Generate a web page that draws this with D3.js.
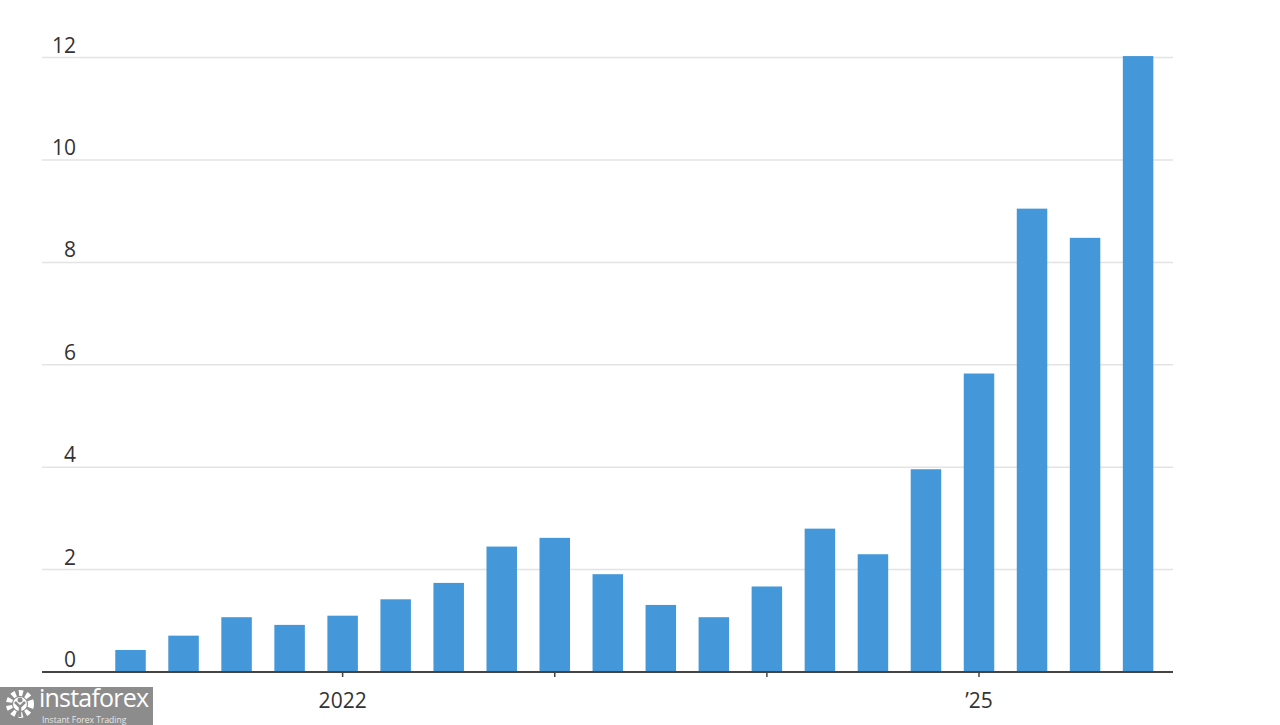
<html>
<head>
    <meta charset="utf-8">
    <title>Bar chart</title>
    <style>
        body { margin: 0; background: #fff; }
        text { font-family: "Open Sans", "Noto Sans", sans-serif; }
    </style>
    <script src="https://cdn.jsdelivr.net/npm/d3@7"></script>
</head>
<body>
<script>
    // quarterly data, 2021 Q1 .. 2025 Q4
    var quarters = ["2021Q1", "2021Q2", "2021Q3", "2021Q4",
        "2022Q1", "2022Q2", "2022Q3", "2022Q4",
        "2023Q1", "2023Q2", "2023Q3", "2023Q4",
        "2024Q1", "2024Q2", "2024Q3", "2024Q4",
        "2025Q1", "2025Q2", "2025Q3", "2025Q4"];
    var values = [0.43, 0.71, 1.07, 0.92, 1.10, 1.42, 1.74, 2.45, 2.62, 1.91,
        1.31, 1.07, 1.67, 2.80, 2.30, 3.96, 5.83, 9.05, 8.48, 12.03];
    var yTicks = [0, 2, 4, 6, 8, 10, 12];
    var xTicks = ["2022Q1", "2023Q1", "2024Q1", "2025Q1"];
    var xTickLabels = { "2022Q1": "2022", "2025Q1": "\u201925" };

    var width = 1280, height = 725;
    var gridLeft = 42, gridRight = 1173;

    var svg = d3.select("body").append("svg")
        .attr("width", width)
        .attr("height", height);

    var x = d3.scaleBand()
        .domain(quarters)
        .range([104, 1164.6])
        .paddingInner(0.425)
        .paddingOuter(0.2125);

    var y = d3.scaleLinear()
        .domain([0, 12])
        .range([672, 57.6]);

    // gridlines
    svg.append("g")
        .selectAll("line")
        .data(yTicks.filter(function (d) { return d > 0; }))
        .enter()
        .append("line")
        .attr("x1", gridLeft)
        .attr("x2", gridRight)
        .attr("y1", function (d) { return y(d); })
        .attr("y2", function (d) { return y(d); })
        .attr("stroke", "#e3e3e3")
        .attr("stroke-width", 1.5);

    // y labels sit above their gridline
    svg.append("g")
        .selectAll("text")
        .data(yTicks)
        .enter()
        .append("text")
        .attr("x", 76)
        .attr("y", function (d) { return y(d) - 5; })
        .attr("text-anchor", "end")
        .attr("font-size", 21)
        .attr("fill", "#333")
        .text(function (d) { return d; });

    // bars
    svg.append("g")
        .selectAll("rect")
        .data(values)
        .enter()
        .append("rect")
        .attr("x", function (d, i) { return x(quarters[i]); })
        .attr("width", x.bandwidth())
        .attr("y", function (d) { return y(d); })
        .attr("height", function (d) { return y(0) - y(d); })
        .attr("fill", "#4497d8");

    // baseline
    svg.append("line")
        .attr("x1", gridLeft)
        .attr("x2", gridRight)
        .attr("y1", y(0))
        .attr("y2", y(0))
        .attr("stroke", "#444")
        .attr("stroke-width", 2);

    // x ticks and labels
    var xt = svg.append("g")
        .selectAll("g")
        .data(xTicks)
        .enter()
        .append("g")
        .attr("transform", function (d) {
            return "translate(" + (x(d) + x.bandwidth() / 2) + "," + y(0) + ")";
        });
    xt.append("line")
        .attr("y1", 0)
        .attr("y2", 5)
        .attr("stroke", "#444")
        .attr("stroke-width", 1.5);
    xt.append("text")
        .attr("y", 36)
        .attr("text-anchor", "middle")
        .attr("font-size", 21)
        .attr("fill", "#333")
        .text(function (d) { return xTickLabels[d] || ""; });

    // watermark
    var wm = svg.append("g").attr("transform", "translate(0,687)");
    wm.append("rect")
        .attr("width", 153)
        .attr("height", 38)
        .attr("fill", "#8c8c8c");
    // gear icon
    wm.append("circle")
        .attr("cx", 20).attr("cy", 17).attr("r", 11)
        .attr("fill", "none")
        .attr("stroke", "#fff")
        .attr("stroke-width", 6)
        .attr("stroke-dasharray", "4 3.2");
    wm.append("circle")
        .attr("cx", 20).attr("cy", 17).attr("r", 7)
        .attr("fill", "#fff");
    wm.append("circle")
        .attr("cx", 20).attr("cy", 13).attr("r", 2.5)
        .attr("fill", "#8c8c8c");
    wm.append("path")
        .attr("d", "M15,15 L20,20 L25,15 M20,20 L20,30")
        .attr("fill", "none")
        .attr("stroke", "#8c8c8c")
        .attr("stroke-width", 2.5);
    wm.append("text")
        .attr("x", 39)
        .attr("y", 20)
        .attr("font-size", 25)
        .attr("fill", "#fff")
        .attr("textLength", 110)
        .text("instaforex");
    wm.append("text")
        .attr("x", 42)
        .attr("y", 36)
        .attr("font-size", 8.5)
        .attr("fill", "#e8e8e8")
        .text("Instant Forex Trading");
</script>
</body>
</html>
